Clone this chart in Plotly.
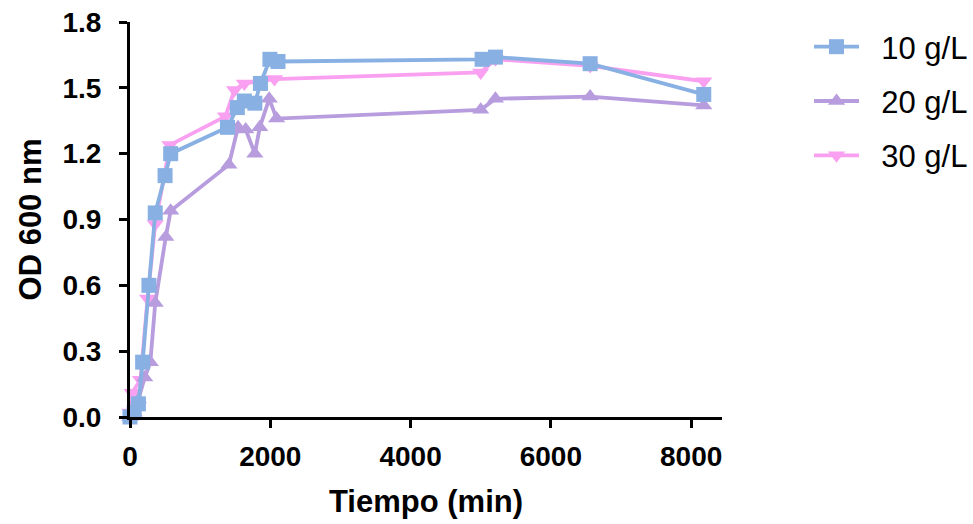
import plotly.graph_objects as go

# Optical density (600 nm) over time for three substrate concentrations
t_10 = [0, 60, 120, 180, 270, 360, 500, 580, 1390, 1530, 1630, 1780, 1860, 1995, 2110, 5020, 5210, 6560, 8180]
od_10 = [0.00, 0.02, 0.06, 0.25, 0.60, 0.93, 1.10, 1.20, 1.32, 1.41, 1.44, 1.43, 1.52, 1.63, 1.62, 1.63, 1.64, 1.61, 1.47]

t_20 = [0, 60, 120, 210, 290, 360, 510, 580, 1410, 1540, 1650, 1780, 1850, 1985, 2090, 5000, 5210, 6560, 8180]
od_20 = [0.00, 0.02, 0.08, 0.18, 0.25, 0.52, 0.82, 0.94, 1.15, 1.32, 1.31, 1.20, 1.32, 1.45, 1.36, 1.40, 1.45, 1.46, 1.42]

t_30 = [0, 30, 150, 250, 360, 570, 1360, 1490, 1630, 2060, 5000, 5210, 6560, 8180]
od_30 = [0.02, 0.11, 0.17, 0.54, 0.88, 1.24, 1.37, 1.49, 1.52, 1.54, 1.57, 1.63, 1.60, 1.53]

x_ticks = [0, 2000, 4000, 6000, 8000]
y_ticks = [0.0, 0.3, 0.6, 0.9, 1.2, 1.5, 1.8]

BLUE = "#88B0E3"
PURPLE = "#B79CDE"
PINK = "#F9A0F0"
FONT = "Liberation Sans"
PAD = "\u00a0\u00a0"  # gap between legend symbol and label

fig = go.Figure()

# drawn back to front: 30 g/L, 20 g/L, 10 g/L
series = [
    ("30 g/L", t_30, od_30, PINK, "triangle-down", 3),
    ("20 g/L", t_20, od_20, PURPLE, "triangle-up", 2),
    ("10 g/L", t_10, od_10, BLUE, "square", 1),
]
for name, x, y, color, symbol, rank in series:
    fig.add_trace(go.Scatter(
        x=x, y=y, name=PAD + name, mode="lines+markers",
        line=dict(color=color, width=3.8),
        marker=dict(symbol=symbol, size=15, color=color, line=dict(width=0)),
        cliponaxis=False, legendrank=rank, legendgroup=name,
    ))

axis_common = dict(
    showline=True, linecolor="black", linewidth=3,
    ticks="outside", ticklen=8, tickwidth=2.5, tickcolor="black",
    showgrid=False, zeroline=False,
    tickfont=dict(family=FONT, size=28, color="black", weight="bold"),
)

fig.update_layout(
    width=973, height=524,
    margin=dict(l=130, r=251, t=22, b=107, autoexpand=False),
    plot_bgcolor="white", paper_bgcolor="white",
    xaxis=dict(
        range=[0, 8440], tickvals=x_ticks, ticktext=[str(v) for v in x_ticks],
        ticklabelstandoff=4,
        title=dict(text="Tiempo (min)", standoff=20,
                   font=dict(family=FONT, size=31, color="black", weight="bold")),
        **axis_common,
    ),
    yaxis=dict(
        range=[0, 1.8], tickvals=y_ticks, ticktext=[f"{v:.1f}" for v in y_ticks],
        ticklabelstandoff=12,
        title=dict(text="OD 600 nm", standoff=12,
                   font=dict(family=FONT, size=31, color="black", weight="bold")),
        **axis_common,
    ),
    legend=dict(
        x=1.147, y=1.005, xanchor="left", yanchor="top",
        font=dict(family=FONT, size=31, color="black"),
        tracegroupgap=11, traceorder="grouped", itemwidth=45,
        bgcolor="rgba(0,0,0,0)",
    ),
    showlegend=True,
)

fig.write_html("out.html")
